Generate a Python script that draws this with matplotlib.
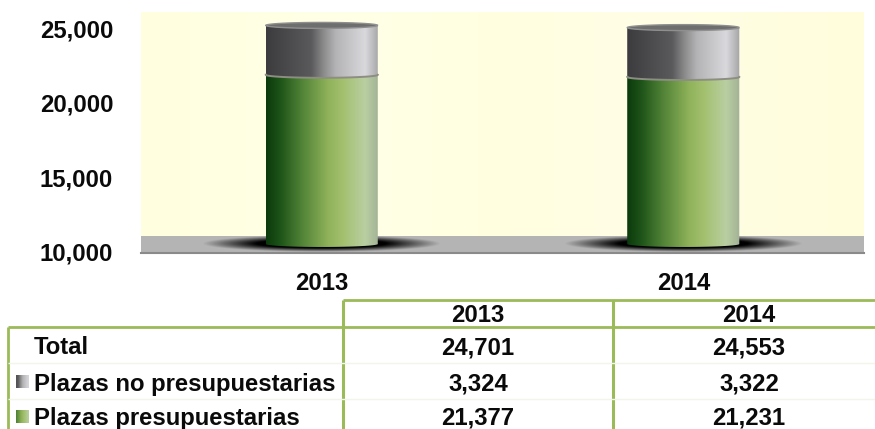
import numpy as np
import matplotlib
matplotlib.use("Agg")
import matplotlib.pyplot as plt
from matplotlib.colors import LinearSegmentedColormap as LSC
from matplotlib.path import Path
from matplotlib.transforms import ScaledTranslation
from matplotlib.patches import PathPatch, Rectangle

plt.rcParams['font.family'] = ['Liberation Sans', 'DejaVu Sans']

years = ['2013', '2014']
presupuestarias = [21377, 21231]
no_presupuestarias = [3324, 3322]
totals = [24701, 24553]
row_labels = ['Total', 'Plazas no presupuestarias', 'Plazas presupuestarias']
yticks = [10000, 15000, 20000, 25000]

W, H = 875, 429
FS = 17.2
LINE = '#9BBB59'
green = LSC.from_list('g', [(0, '#0b3a0c'), (.12, '#1d5218'), (.3, '#4c7f34'),
                            (.55, '#8fb25a'), (.68, '#a3c06e'), (.88, '#b9cfa2'), (1, '#a2b295')])
gray = LSC.from_list('k', [(0, '#3c3c3e'), (.4, '#5a5a5c'), (.52, '#8f8f90'),
                           (.62, '#b4b4b6'), (.88, '#d9d9dd'), (1, '#a5a5a7')])
grad = np.linspace(0, 1, 256).reshape(1, -1)
swatch = np.linspace(.3, .9, 64).reshape(1, -1)

fig = plt.figure(figsize=(W / 100, H / 100), dpi=100)
fig.patch.set_facecolor('white')
ax = fig.add_axes([141 / W, 1 - 253 / H, 723 / W, 241 / H])
YLIM = (10000, 10000 + 241 / 14.87 * 1000)
ax.set_xlim(-.5, 1.5)
ax.set_ylim(*YLIM)
for s in ['top', 'right', 'left']:
    ax.spines[s].set_visible(False)
ax.spines['bottom'].set_color('#8a8a8a')
ax.spines['bottom'].set_linewidth(1.5)
ax.set_xticks(range(2), years)
ax.set_yticks(yticks, [f'{v:,}' for v in yticks])
ax.tick_params(length=0, labelsize=FS)
ax.tick_params(axis='y', pad=20)
ax.tick_params(axis='x', pad=14)
up = ScaledTranslation(0, 1.5 / 100, fig.dpi_scale_trans)
for t in ax.get_yticklabels():
    t.set_transform(t.get_transform() + up)
for t in ax.get_xticklabels() + ax.get_yticklabels():
    t.set_fontweight('bold')
    t.set_color('#0a0a0a')

# wall and floor
wall = np.array([[[255, 255, 224], [255, 255, 234], [255, 255, 220], [255, 255, 234], [255, 253, 220]]], dtype=np.uint8)
ax.imshow(wall, extent=(0, 1, 17 / 241, 1), transform=ax.transAxes, aspect='auto',
          interpolation='bicubic', zorder=0)
ax.add_patch(Rectangle((0, 0), 1, 17 / 241, transform=ax.transAxes, fc='#b4b4b4', ec='none', zorder=1))

# cylinders, lifted off the floor by the 3D depth
lift = ScaledTranslation(0, 9 / 100, fig.dpi_scale_trans)
tr = ax.transData + lift
bw = 0.31
ry = 200.0
th = np.linspace(0, np.pi, 60)


def body(x0, lo, hi):
    xs = x0 + bw / 2 * np.cos(th)
    bot = lo - ry * np.sin(th)
    return np.r_[np.c_[xs[::-1], bot[::-1]], np.c_[xs, hi - ry * np.sin(th)]]


def cap(x0, y):
    t = np.linspace(0, 2 * np.pi, 80)
    return np.c_[x0 + bw / 2 * np.cos(t), y + ry * np.sin(t)]


def segment(x0, lo, hi, cmap, z):
    im = ax.imshow(grad, extent=(x0 - bw / 2, x0 + bw / 2, lo - ry, hi + ry), cmap=cmap,
                   aspect='auto', transform=tr, zorder=z, interpolation='bilinear')
    im.set_clip_path(Path(body(x0, lo, hi)), tr)


for i, (a, b) in enumerate(zip(presupuestarias, no_presupuestarias)):
    # soft shadow on the floor
    t = np.linspace(-1, 1, 300)[None, :]
    yy = np.linspace(-1, 1, 40)[:, None]
    sh = np.zeros((40, 300, 4))
    sh[..., 3] = np.clip((1 - np.sqrt(t ** 2 + yy ** 2)) * 2.2, 0, 1)
    ax.imshow(sh, extent=(i - .33, i + .33, 10000 + 1 / 14.87 * 1000, 10000 + 17 / 14.87 * 1000),
              aspect='auto', zorder=2, interpolation='bilinear')
    segment(i, 10000, a, green, 3)
    segment(i, a, a + b, gray, 4)
    sep = cap(i, a)
    half = sep[:41] * [1, 1]
    half[:, 1] = a - (half[:, 1] - a)
    ax.plot(half[:, 0], half[:, 1], color='#8d8d84', lw=1.4, transform=tr, zorder=5)
    ax.add_patch(PathPatch(Path(cap(i, a + b)), fc='#6e6e6e', ec='#8f8f8f', lw=1,
                           transform=tr, zorder=6))
ax.set_xlim(-.5, 1.5)
ax.set_ylim(*YLIM)

# data table, laid out in pixels
ov = fig.add_axes([0, 0, 1, 1])
ov.set_xlim(0, W)
ov.set_ylim(H, 0)
ov.axis('off')
ov.patch.set_alpha(0)
for xs, ys, c, lw in [((343, 875), (300, 300), LINE, 2), ((8, 875), (327, 327), LINE, 2),
                      ((8, 8), (327, 429), LINE, 2), ((343, 343), (300, 429), LINE, 2.2),
                      ((613, 613), (300, 429), LINE, 2.2),
                      ((8, 875), (363, 363), '#f2f5ea', 1), ((8, 875), (399, 399), '#f2f5ea', 1)]:
    ov.plot(xs, ys, color=c, lw=lw, solid_capstyle='butt')

col_x = [478, 749]
row_y = [345.5, 382, 416]
kw = dict(fontsize=FS, fontweight='bold', color='#0a0a0a', va='center_baseline')
for x, y in zip(col_x, years):
    ov.text(x, 313, y, ha='center', **kw)
for lab, y in zip(row_labels, row_y):
    ov.text(34, y, lab, ha='left', **kw)
for series, y in zip([totals, no_presupuestarias, presupuestarias], row_y):
    for x, v in zip(col_x, series):
        ov.text(x, y, f'{v:,}', ha='center', **kw)
for cm, y in [(gray, row_y[1]), (green, row_y[2] + 1)]:
    ov.imshow(swatch, extent=(16, 29, y + 6, y - 7), cmap=cm, vmin=0, vmax=1, aspect='auto', zorder=3)
ov.set_xlim(0, W)
ov.set_ylim(H, 0)

fig.savefig('out.png', dpi=100)
